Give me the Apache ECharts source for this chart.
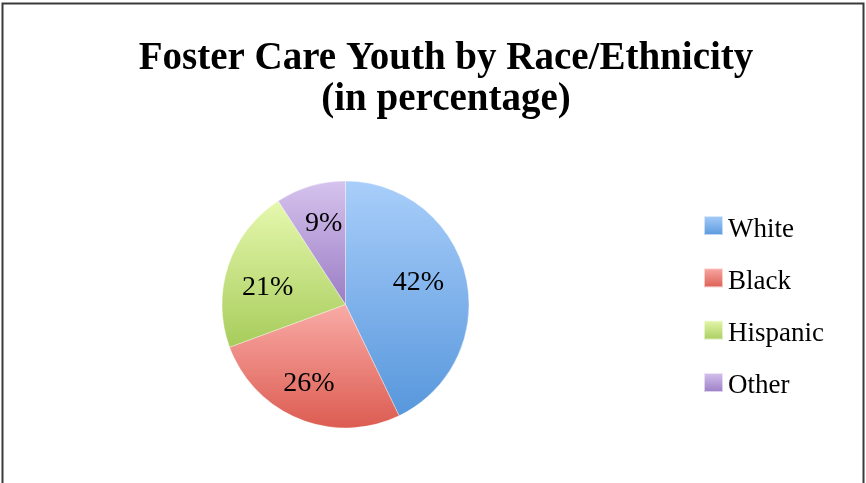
<!DOCTYPE html>
<html>
<head>
<meta charset="utf-8">
<title>Foster Care Youth by Race/Ethnicity</title>
<script src="https://cdn.jsdelivr.net/npm/echarts@6/dist/echarts.min.js"></script>
<style>
  html, body { margin: 0; padding: 0; background: #ffffff; }
  #chart { width: 866px; height: 483px; }
</style>
</head>
<body>
<div id="chart"></div>
<script>
// Share of foster care youth by race/ethnicity (percent)
var categories = ['White', 'Black', 'Hispanic', 'Other'];
var percentages = [42, 26, 21, 9];

// Vertical gradient per slice: light at top, deeper at bottom
var sliceGradients = [
  ['#a9cefa', '#5797dc'],
  ['#f9aba6', '#dc5c51'],
  ['#e6f8ae', '#a7cc5b'],
  ['#d6c3ee', '#9a7dc4']
];

// Small per-slice nudges of the percentage labels [dx, dy]
var labelNudges = [[-9, -3], [-5, 1], [2, 10], [2, 0]];

function gradient(pair) {
  return new echarts.graphic.LinearGradient(0, 0, 0, 1, [
    { offset: 0, color: pair[0] },
    { offset: 1, color: pair[1] }
  ]);
}

var serif = '"Liberation Serif", "DejaVu Serif", serif';

var sliceData = categories.map(function (name, i) {
  return {
    name: name,
    value: percentages[i],
    itemStyle: { color: gradient(sliceGradients[i]) }
  };
});

var labelData = categories.map(function (name, i) {
  return { name: name, value: percentages[i], label: { offset: labelNudges[i] } };
});

var chart = echarts.init(document.getElementById('chart'), null, { renderer: 'canvas' });

chart.setOption({
  backgroundColor: '#ffffff',
  animation: false,
  title: {
    text: 'Foster Care Youth by Race/Ethnicity\n(in percentage)',
    left: 446,
    top: 38,
    padding: 0,
    textAlign: 'center',
    textStyle: {
      fontFamily: serif,
      fontWeight: 'bold',
      fontSize: 39,
      lineHeight: 41,
      color: '#000000'
    }
  },
  legend: {
    data: categories,
    orient: 'vertical',
    left: 703,
    top: 208,
    padding: 0,
    itemWidth: 19,
    itemHeight: 19,
    itemGap: 17.3,
    icon: 'rect',
    selectedMode: false,
    formatter: '{t|{name}}',
    textStyle: {
      fontFamily: serif,
      fontSize: 27,
      lineHeight: 27,
      color: '#000000',
      padding: [8, 0, 0, 0],
      rich: {
        t: {
          fontFamily: serif,
          fontSize: 27,
          lineHeight: 27,
          color: '#000000'
        }
      }
    }
  },
  graphic: [{
    type: 'rect',
    silent: true,
    shape: { x: 2.5, y: 3.5, width: 861, height: 490 },
    style: { fill: null, stroke: '#3a3a3a', lineWidth: 2 },
    z: 10
  }],
  series: [
    {
      name: 'Race/Ethnicity',
      type: 'pie',
      center: [345.5, 304.5],
      radius: [0, 123.5],
      startAngle: 90,
      clockwise: true,
      avoidLabelOverlap: false,
      label: { show: false },
      labelLine: { show: false },
      itemStyle: { borderColor: 'rgba(255,255,255,0.6)', borderWidth: 0.6 },
      emphasis: { disabled: true },
      data: sliceData
    },
    {
      // percentage labels placed further out than the slice midpoint
      name: 'Labels',
      type: 'pie',
      center: [345.5, 304.5],
      radius: [40, 122],
      startAngle: 90,
      clockwise: true,
      silent: true,
      avoidLabelOverlap: false,
      itemStyle: { color: 'rgba(0,0,0,0)' },
      label: {
        show: true,
        position: 'inside',
        formatter: '{c}%',
        fontFamily: serif,
        fontSize: 28,
        color: '#000000'
      },
      labelLine: { show: false },
      emphasis: { disabled: true },
      data: labelData
    }
  ]
});
</script>
</body>
</html>
